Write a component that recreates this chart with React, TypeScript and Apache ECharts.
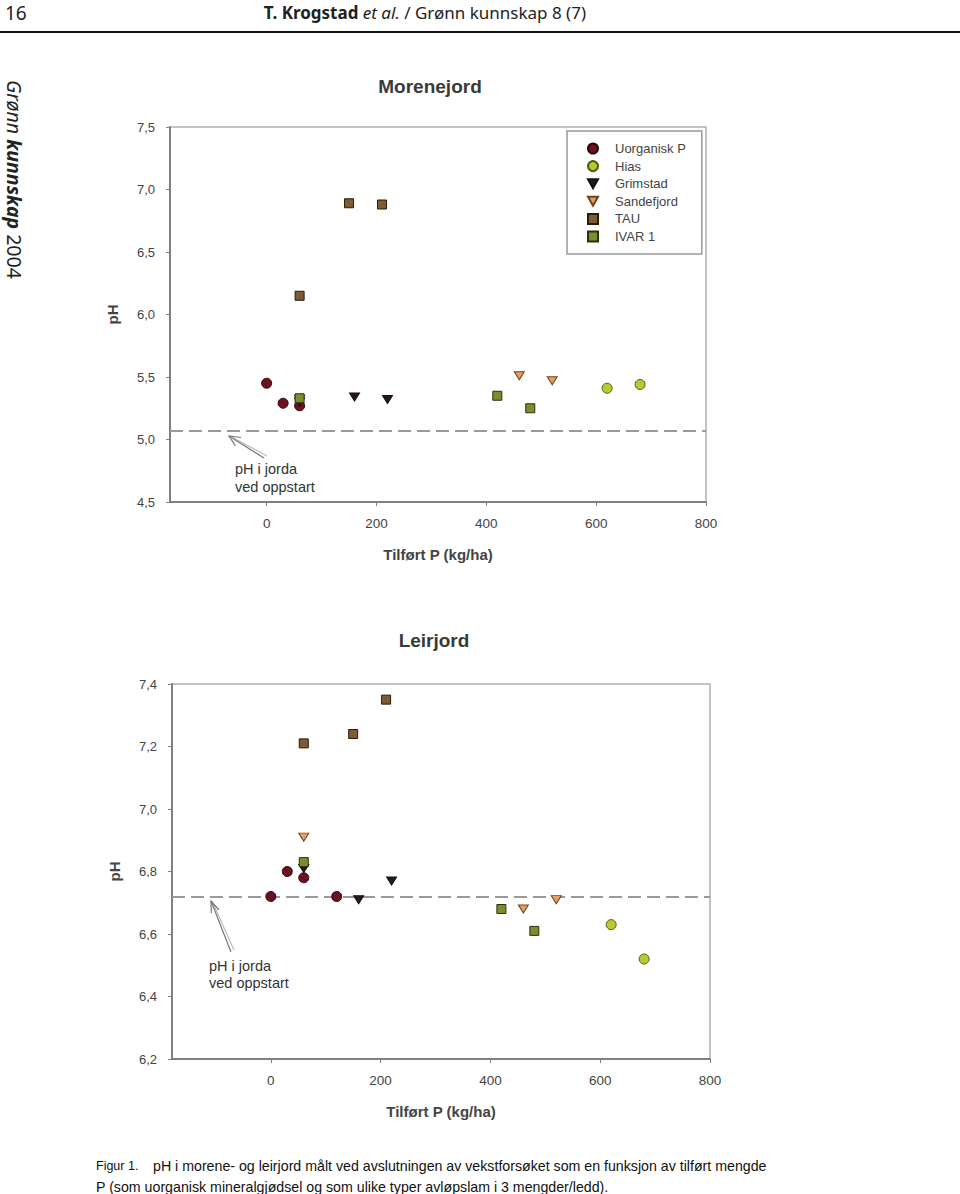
import React, { useEffect, useRef } from 'react';
import * as echarts from 'echarts';

const seriesNames = ['Uorganisk P', 'Hias', 'Grimstad', 'Sandefjord', 'TAU', 'IVAR 1'];

// Morenejord (x: Tilført P kg/ha, y: pH)
const moreneUorganisk = [[0, 5.45], [30, 5.29], [60, 5.27]];
const moreneHias = [[620, 5.41], [680, 5.44]];
const moreneGrimstad = [[60, 5.3], [160, 5.34], [220, 5.32]];
const moreneSandefjord = [[60, 5.32], [460, 5.51], [520, 5.47]];
const moreneTAU = [[60, 6.15], [150, 6.89], [210, 6.88]];
const moreneIVAR = [[60, 5.33], [420, 5.35], [480, 5.25]];
const moreneStart = 5.07;

// Leirjord
const leirUorganisk = [[0, 6.72], [30, 6.8], [60, 6.78], [120, 6.72]];
const leirHias = [[620, 6.63], [680, 6.52]];
const leirGrimstad = [[60, 6.81], [160, 6.71], [220, 6.77]];
const leirSandefjord = [[60, 6.91], [460, 6.68], [520, 6.71]];
const leirTAU = [[60, 7.21], [150, 7.24], [210, 7.35]];
const leirIVAR = [[60, 6.83], [420, 6.68], [480, 6.61]];
const leirStart = 6.72;

const xTicks = [0, 200, 400, 600, 800];
const moreneYTicks = [4.5, 5.0, 5.5, 6.0, 6.5, 7.0, 7.5];
const leirYTicks = [6.2, 6.4, 6.6, 6.8, 7.0, 7.2, 7.4];

const FONT = 'Liberation Sans, Arial, sans-serif';
const DOWN_TRI = 'path://M0,0 L10,0 L5,9 Z';

const styles: Record<string, any> = {
  'Uorganisk P': { symbol: 'circle', size: 10, color: '#6e1020', border: '#2e0508' },
  Hias: { symbol: 'circle', size: 10, color: '#b9c834', border: '#4e5e0c' },
  Grimstad: { symbol: DOWN_TRI, size: [10, 8], color: '#2a1818', border: '#111111' },
  Sandefjord: { symbol: DOWN_TRI, size: [10, 8], color: '#e2a062', border: '#74401c' },
  TAU: { symbol: 'rect', size: 9, color: '#7c5c32', border: '#2a1a08' },
  'IVAR 1': { symbol: 'rect', size: 9, color: '#7d8c2c', border: '#27320e' },
};

function fmt(v: number) {
  return v.toFixed(1).replace('.', ',');
}

function makeSeries(name: string, data: number[][], gi: number, startLine?: number) {
  const s = styles[name];
  const ser: any = {
    name,
    type: 'scatter',
    xAxisIndex: gi,
    yAxisIndex: gi,
    data,
    symbol: s.symbol,
    symbolSize: s.size,
    itemStyle: { color: s.color, borderColor: s.border, borderWidth: 1, opacity: 1 },
    z: 3,
  };
  if (startLine !== undefined) {
    ser.markLine = {
      silent: true,
      symbol: 'none',
      label: { show: false },
      lineStyle: { color: '#9a9a9a', width: 2, type: [13, 6] },
      data: [{ yAxis: startLine }],
      z: 1,
    };
  }
  return ser;
}

function xAxisCfg(gi: number, min: number) {
  return {
    gridIndex: gi,
    type: 'value',
    min,
    max: 800,
    splitLine: { show: false },
    axisLine: { show: true, onZero: false, lineStyle: { color: '#808080', width: 2 } },
    axisTick: { show: true, customValues: xTicks, length: 4, lineStyle: { color: '#808080', width: 1 } },
    axisLabel: { customValues: xTicks, fontSize: 13.5, color: '#444', margin: 14, fontFamily: FONT },
    name: 'Tilført P (kg/ha)',
    nameLocation: 'middle',
    nameGap: 45,
    nameTextStyle: { fontSize: 15, fontWeight: 'bold', color: '#444', fontFamily: FONT },
  };
}

function yAxisCfg(gi: number, ticks: number[]) {
  return {
    gridIndex: gi,
    type: 'value',
    min: ticks[0],
    max: ticks[ticks.length - 1],
    splitLine: { show: false },
    axisLine: { show: true, onZero: false, lineStyle: { color: '#808080', width: 2 } },
    axisTick: { show: true, customValues: ticks, length: 4, lineStyle: { color: '#808080', width: 1 } },
    axisLabel: { customValues: ticks, fontSize: 13, color: '#444', margin: 15, fontFamily: FONT, formatter: (v: number) => fmt(v) },
    name: 'pH',
    nameLocation: 'middle',
    nameRotate: 90,
    nameGap: 50,
    nameTextStyle: { fontSize: 15, fontWeight: 'bold', color: '#444', fontFamily: FONT },
  };
}

function arrow(tip: number[], tail: number[], h1: number[], h2: number[]) {
  const st = { stroke: '#777', lineWidth: 1.2 };
  return [
    { type: 'line', shape: { x1: tail[0], y1: tail[1], x2: tip[0], y2: tip[1] }, style: st, z: 10 },
    { type: 'line', shape: { x1: tail[0] + 3, y1: tail[1] - 2, x2: tip[0] + 1, y2: tip[1] }, style: { stroke: '#aaa', lineWidth: 1 }, z: 10 },
    { type: 'polyline', shape: { points: [h1, tip, h2] }, style: { ...st, fill: null }, z: 10 },
  ];
}

function txt(x: number, y: number, text: string, size: number, extra: any = {}) {
  return {
    type: 'text',
    x,
    y,
    z: 10,
    style: { text, fontSize: size, fontFamily: FONT, fill: '#333', verticalAlign: 'middle', ...extra },
  };
}

export default function App() {
  const ref = useRef<HTMLDivElement>(null);

  useEffect(() => {
    if (!ref.current) return;
    const chart = echarts.init(ref.current, null, { renderer: 'svg' });

    const option: any = {
      animation: false,
      backgroundColor: '#ffffff',
      grid: [
        { left: 170, top: 127, width: 536, height: 375, show: true, borderColor: '#b0b0b0', borderWidth: 1.5, backgroundColor: 'transparent' },
        { left: 172, top: 684, width: 538, height: 375, show: true, borderColor: '#b0b0b0', borderWidth: 1.5, backgroundColor: 'transparent' },
      ],
      xAxis: [xAxisCfg(0, -176), xAxisCfg(1, -180)],
      yAxis: [yAxisCfg(0, moreneYTicks), yAxisCfg(1, leirYTicks)],
      legend: {
        orient: 'vertical',
        left: 567,
        top: 131,
        data: seriesNames,
        itemWidth: 10,
        itemHeight: 10,
        itemGap: 4.6,
        padding: [11, 16, 11, 20],
        borderColor: '#999',
        borderWidth: 1.5,
        backgroundColor: '#fff',
        textStyle: { fontSize: 13, color: '#444', fontFamily: FONT, padding: [0, 0, 0, 12] },
        selectedMode: false,
      },
      series: [
        makeSeries('Uorganisk P', moreneUorganisk, 0, moreneStart),
        makeSeries('Hias', moreneHias, 0),
        makeSeries('Grimstad', moreneGrimstad, 0),
        makeSeries('Sandefjord', moreneSandefjord, 0),
        makeSeries('TAU', moreneTAU, 0),
        makeSeries('IVAR 1', moreneIVAR, 0),
        makeSeries('Uorganisk P', leirUorganisk, 1, leirStart),
        makeSeries('Hias', leirHias, 1),
        makeSeries('Grimstad', leirGrimstad, 1),
        makeSeries('Sandefjord', leirSandefjord, 1),
        makeSeries('TAU', leirTAU, 1),
        makeSeries('IVAR 1', leirIVAR, 1),
      ],
      graphic: [
        // page header
        txt(5, 13, '16', 19, { fontFamily: 'Noto Sans, sans-serif', fill: '#222' }),
        {
          type: 'text',
          x: 586,
          y: 12,
          style: {
            text: '{b|T. Krogstad} {i|et al.} / Grønn kunnskap 8 (7)',
            align: 'right',
            verticalAlign: 'middle',
            fontSize: 17,
            fontFamily: 'Noto Sans, sans-serif',
            fill: '#222',
            rich: {
              b: { fontWeight: 'bold', fontSize: 17, fontFamily: 'Noto Sans, sans-serif', fill: '#222' },
              i: { fontStyle: 'italic', fontSize: 17, fontFamily: 'Noto Sans, sans-serif', fill: '#222' },
            },
          },
        },
        { type: 'line', shape: { x1: 0, y1: 32, x2: 960, y2: 32 }, style: { stroke: '#111', lineWidth: 2 } },
        // side text
        {
          type: 'text',
          x: 14,
          y: 80,
          rotation: -Math.PI / 2,
          style: {
            text: '{i|Grønn} {bi|kunnskap} 2004',
            align: 'left',
            verticalAlign: 'middle',
            fontSize: 19.5,
            fontFamily: 'Noto Sans, sans-serif',
            fill: '#222',
            rich: {
              i: { fontStyle: 'italic', fontSize: 19.5, fontFamily: 'Noto Sans, sans-serif', fill: '#222' },
              bi: { fontStyle: 'italic', fontWeight: 'bold', fontSize: 19.5, fontFamily: 'Noto Sans, sans-serif', fill: '#222' },
            },
          },
        },
        // chart titles
        txt(430, 86, 'Morenejord', 19, { align: 'center', fontWeight: 'bold', fill: '#3a3a3a' }),
        txt(434, 640, 'Leirjord', 19, { align: 'center', fontWeight: 'bold', fill: '#3a3a3a' }),
        // annotations
        ...arrow([229, 436], [264, 458], [241, 437.5], [235.5, 446]),
        txt(235, 469, 'pH i jorda', 14.5),
        txt(235, 487, 'ved oppstart', 14.5),
        ...arrow([211, 901], [231, 952], [219, 910], [211.3, 913]),
        txt(209, 966, 'pH i jorda', 14.5),
        txt(209, 983, 'ved oppstart', 14.5),
        // caption
        txt(96, 1166, 'Figur 1.', 12.5, { fill: '#111' }),
        txt(153, 1166, 'pH i morene- og leirjord målt ved avslutningen av vekstforsøket som en funksjon av tilført mengde', 14.2, { fill: '#111' }),
        txt(96, 1187, 'P (som uorganisk mineralgjødsel og som ulike typer avløpslam i 3 mengder/ledd).', 14.2, { fill: '#111' }),
      ],
    };

    chart.setOption(option);
    return () => chart.dispose();
  }, []);

  return (
    <div
      ref={ref}
      style={{ position: 'absolute', left: 0, top: 0, width: 960, height: 1194, background: '#fff' }}
    />
  );
}
